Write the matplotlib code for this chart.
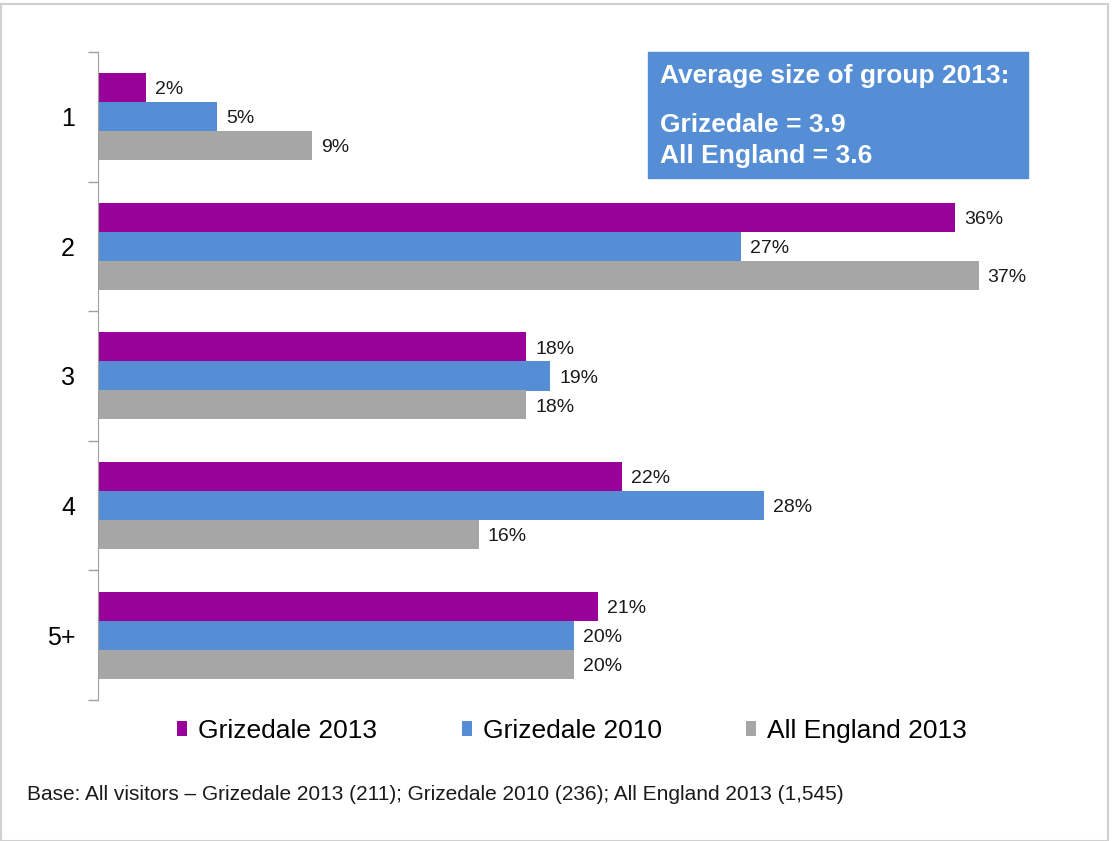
import numpy as np
import matplotlib.pyplot as plt
from matplotlib.patches import Rectangle

plt.rcParams['font.family'] = ['Liberation Sans', 'DejaVu Sans']

groups = ['1', '2', '3', '4', '5+']
series_names = ['Grizedale 2013', 'Grizedale 2010', 'All England 2013']
griz_2013 = [2, 36, 18, 22, 21]
griz_2010 = [5, 27, 19, 28, 20]
england_2013 = [9, 37, 18, 16, 20]
colours = ['#990099', '#558ED5', '#A6A6A6']

fig = plt.figure(figsize=(11.13, 8.41), dpi=100)
ax = fig.add_axes([98 / 1113, 1 - 700 / 841, 952 / 1113, 648 / 841])

y = np.arange(len(groups))
h = 29 / 129.6
for i, (vals, c, name) in enumerate(zip([griz_2013, griz_2010, england_2013], colours, series_names)):
    pos = y + (i - 1) * h
    bars = ax.barh(pos, vals, height=h, color=c, label=name)
    for b, v in zip(bars, vals):
        ax.annotate(f'{v}%', (b.get_width(), b.get_y() + b.get_height() / 2),
                    xytext=(6.5, -1.5), textcoords='offset points',
                    ha='left', va='center', fontsize=14, color='#1a1a1a')

ax.set_xlim(0, 40)
ax.set_ylim(len(groups) - 0.5, -0.5)
ax.set_yticks(y)
ax.set_yticklabels(groups, fontsize=18)
ax.set_yticks(np.arange(-0.5, len(groups)), minor=True)
ax.tick_params(axis='y', which='major', length=0, pad=16.5)
ax.tick_params(axis='y', which='minor', length=7, color='#A0A0A0', width=1)
ax.set_xticks([])
for s in ['top', 'right', 'bottom']:
    ax.spines[s].set_visible(False)
ax.spines['left'].set_color('#A0A0A0')

# info box
fig.patches.append(Rectangle((648 / 1113, 1 - 178 / 841), 380 / 1113, 126 / 841,
                             transform=fig.transFigure, color='#558ED5', zorder=5))
fig.text(660 / 1113, 1 - 76 / 841, 'Average size of group 2013:', color='white',
         fontsize=19, fontweight='bold', va='center', zorder=6)
fig.text(660 / 1113, 1 - 125 / 841, 'Grizedale = 3.9', color='white',
         fontsize=19, fontweight='bold', va='center', zorder=6)
fig.text(660 / 1113, 1 - 156 / 841, 'All England = 3.6', color='white',
         fontsize=19, fontweight='bold', va='center', zorder=6)

leg = fig.legend(loc='center', bbox_to_anchor=(572 / 1113, 1 - 731 / 841), ncol=3,
                 frameon=False, fontsize=19, handlelength=0.38, handleheight=0.53,
                 handletextpad=0.42, columnspacing=3.2)

fig.text(27 / 1113, 1 - 795 / 841,
         'Base: All visitors \u2013 Grizedale 2013 (211); Grizedale 2010 (236); All England 2013 (1,545)',
         fontsize=15, va='center', color='#1a1a1a')

# outer frame
fig.patches.append(Rectangle((0.5 / 1113, 0), 1107 / 1113, 1 - 3.5 / 841,
                             transform=fig.transFigure, fill=False,
                             edgecolor='#D0D0D0', linewidth=1.5))

fig.savefig('out.png', dpi=100)
